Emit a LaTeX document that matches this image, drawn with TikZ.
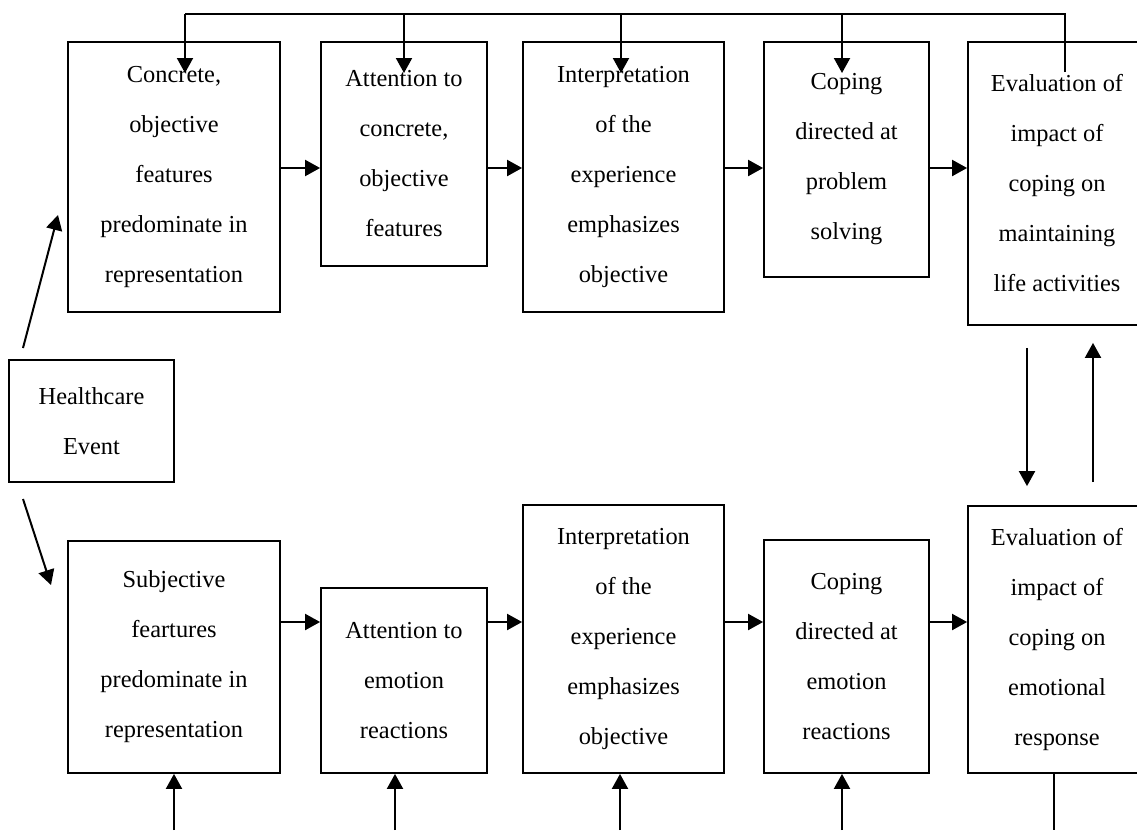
\documentclass[tikz,border=0pt]{standalone}
\usepackage{fontspec}
\setmainfont{Liberation Serif}
\usetikzlibrary{arrows.meta}
\tikzset{
	box/.style={draw, line width=1.8pt, inner sep=0pt, align=center, font=\fontsize{24.4}{50}\selectfont},
	arr/.style={line width=2pt, -{Triangle[length=15pt,width=16pt]}},
	plain/.style={line width=1.7pt},
}
\begin{document}
\begin{tikzpicture}[x=1pt,y=1pt,yscale=-1,xscale=1]
			\useasboundingbox (0,0) rectangle (1137,830);
			\clip (0,0) rectangle (1137,830);
			
			%Shape: Rectangle [id:ev] 
			\node [box, minimum width=165, minimum height=122] (ev) at (91.5,421) {Healthcare\\Event};
			
			%Shape: Rectangle [id:top row] 
			\node [box, minimum width=212, minimum height=270] (t1) at (174,177) {Concrete,\\objective\\features\\predominate in\\representation};
			\node [box, minimum width=166, minimum height=224] (t2) at (404,154) {Attention to\\concrete,\\objective\\features};
			\node [box, minimum width=201, minimum height=270] (t3) at (623.5,177) {Interpretation\\of the\\experience\\emphasizes\\objective};
			\node [box, minimum width=165, minimum height=235] (t4) at (846.5,159.5) {Coping\\directed at\\problem\\solving};
			\node [box, minimum width=178, minimum height=283] (t5) at (1057,183.5) {Evaluation of\\impact of\\coping on\\maintaining\\life activities};
			
			%Shape: Rectangle [id:bottom row] 
			\node [box, minimum width=212, minimum height=232] (b1) at (174,657) {Subjective\\feartures\\predominate in\\representation};
			\node [box, minimum width=166, minimum height=185] (b2) at (404,680.5) {Attention to\\emotion\\reactions};
			\node [box, minimum width=201, minimum height=268] (b3) at (623.5,639) {Interpretation\\of the\\experience\\emphasizes\\objective};
			\node [box, minimum width=165, minimum height=233] (b4) at (846.5,656.5) {Coping\\directed at\\emotion\\reactions};
			\node [box, minimum width=178, minimum height=267] (b5) at (1057,639.5) {Evaluation of\\impact of\\coping on\\emotional\\response};
			
			% Helper coordinates
			\coordinate (toprow) at (0,168);
			\coordinate (botrow) at (0,622);
			\coordinate (tipline) at (0,73);
			\coordinate (pagebot) at (0,830);
			\coordinate (fbin) at (1065,72);
			\coordinate (evup) at (23,348);
			\coordinate (t1in) at (58,215);
			\coordinate (evdown) at (23,499);
			\coordinate (b1in) at (51,585);
			\coordinate (dnx) at (1027,0);
			\coordinate (upx) at (1093,0);
			\coordinate (outx) at (1054,0);
			
			%Straight Lines [id:row arrows] 
			\foreach \a/\b in {1/2, 2/3, 3/4, 4/5} {
				\draw [arr] (t\a.east |- toprow) -- (t\b.west |- toprow);
				\draw [arr] (b\a.east |- botrow) -- (b\b.west |- botrow);
			}
			
			%Straight Lines [id:feedback top] 
			\foreach \n/\x in {1/185, 2/404, 3/621, 4/842} {
				\coordinate (fb\n) at (\x,14);
				\draw [arr] (fb\n) -- (fb\n |- tipline);
			}
			\draw [plain] (fbin) |- (fb1);
			
			%Straight Lines [id:inputs bottom] 
			\foreach \n/\x in {1/174, 2/395, 3/620, 4/842} {
				\coordinate (bu\n) at (\x,830);
				\draw [arr] (bu\n) -- (bu\n |- b\n.south);
			}
			\draw [plain] (b5.south -| outx) -- (pagebot -| outx);
			
			%Straight Lines [id:healthcare event] 
			\draw [arr] (evup) -- (t1in);
			\draw [arr] (evdown) -- (b1in);
			
			%Straight Lines [id:evaluation loop] 
			\draw [arr, shorten <=22pt, shorten >=19pt] (t5.south -| dnx) -- (b5.north -| dnx);
			\draw [arr, shorten <=23pt, shorten >=17pt] (b5.north -| upx) -- (t5.south -| upx);
		\end{tikzpicture}
\end{document}
